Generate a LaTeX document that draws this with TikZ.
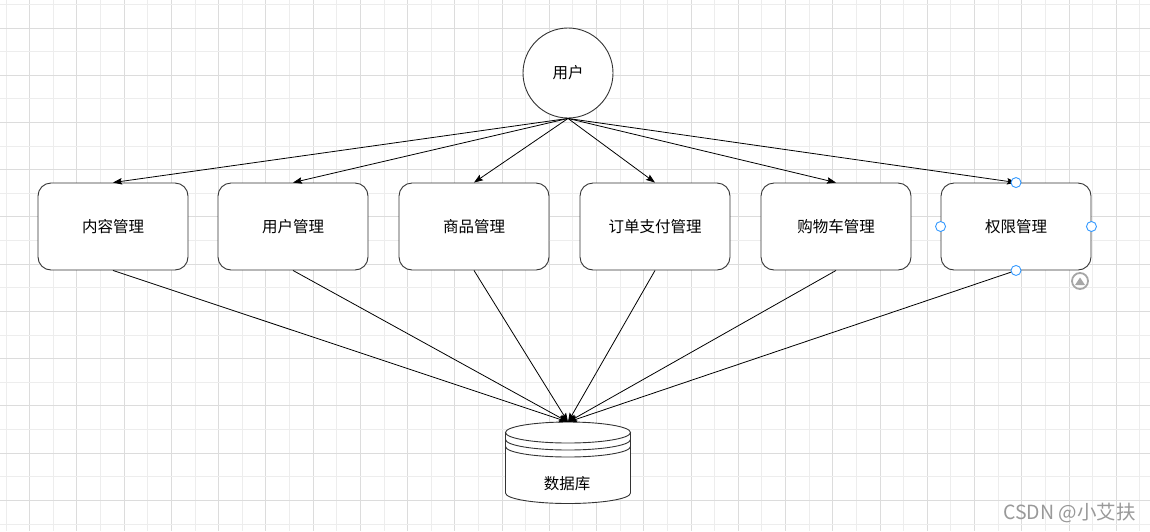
\documentclass[tikz,border=0pt]{standalone}
\usepackage{fontspec}
\setmainfont{Noto Sans CJK SC}
\usetikzlibrary{arrows.meta}
\definecolor{gridA}{HTML}{EDEDED}
\definecolor{gridB}{HTML}{DCDCDC}
\definecolor{edgec}{HTML}{333333}
\definecolor{handlec}{HTML}{3399FF}
\definecolor{hoverc}{HTML}{A6A6A6}
\definecolor{wmark}{HTML}{999999}
\begin{document}
\begin{tikzpicture}[x=1pt,y=-1pt,
  lbl/.style={font=\fontsize{15.5}{18}\selectfont, text=black},
  modbox/.style={lbl, draw=edgec, line width=0.9pt, rounded corners=13pt, fill=white,
    minimum width=150pt, minimum height=87pt, inner sep=0pt},
  usercirc/.style={lbl, draw=edgec, line width=0.9pt, circle, fill=white, minimum size=90pt, inner sep=0pt},
  conn/.style={draw=black, line width=0.8pt},
  arr/.style={conn, -{Stealth[length=9pt,width=6.5pt,inset=1.5pt]}},
  dbline/.style={draw=edgec, line width=0.9pt},
  handle/.style={circle, draw=handlec, fill=white, line width=0.9pt, minimum size=10pt, inner sep=0pt},
]
\useasboundingbox (0,0) rectangle (1150,531);
\fill[white] (0,0) rectangle (1150,531);
% grid
\foreach \k in {0,...,24} {
  \draw[gridA, line width=0.8pt] ({6+47.24*\k},0) -- ({6+47.24*\k},531);
  \draw[gridB, line width=0.8pt] ({29.62+47.24*\k},0) -- ({29.62+47.24*\k},531);
}
\foreach \k in {0,...,11} {
  \draw[gridA, line width=0.8pt] (0,{4.3+47.24*\k}) -- (1150,{4.3+47.24*\k});
  \draw[gridB, line width=0.8pt] (0,{27.9+47.24*\k}) -- (1150,{27.9+47.24*\k});
}

% user circle
\node[usercirc] (user) at (568,73) {用户};

% module boxes
\node[modbox] (b1) at (113,226.5) {内容管理};
\node[modbox] (b2) at (293,226.5) {用户管理};
\node[modbox] (b3) at (474,226.5) {商品管理};
\node[modbox] (b4) at (655,226.5) {订单支付管理};
\node[modbox] (b5) at (836,226.5) {购物车管理};
\node[modbox] (b6) at (1016,226.5) {权限管理};

% database cylinder (y axis points down: arcs from 180 to 0 pass below)
\coordinate (dbtop) at (568,422);
\fill[white] (505.5,432.5) -- (505.5,493) arc[start angle=180,end angle=0,x radius=62.5,y radius=10.5]
  -- (630.5,432.5) arc[start angle=0,end angle=-180,x radius=62.5,y radius=10.5] -- cycle;
\draw[dbline] (568,432.5) ellipse[x radius=62.5,y radius=10.5];
\draw[dbline] (505.5,439.5) arc[start angle=180,end angle=0,x radius=62.5,y radius=10.5];
\draw[dbline] (505.5,446.5) arc[start angle=180,end angle=0,x radius=62.5,y radius=10.5];
\draw[dbline] (505.5,432.5) -- (505.5,493) arc[start angle=180,end angle=0,x radius=62.5,y radius=10.5] -- (630.5,432.5);
\node[lbl] (db) at (567,484) {数据库};

% connectors user -> modules
\foreach \b in {b1,b2,b3,b4,b5,b6} {
  \draw[arr] (user.south) -- (\b.north);
}
% connectors modules -> database
\foreach \b in {b1,b2,b3,b4,b5,b6} {
  \draw[arr] (\b.south) -- (dbtop);
}

% selection handles on b6
\node[handle] (h1) at (b6.north) {};
\node[handle] (h2) at (b6.west) {};
\node[handle] (h3) at (b6.east) {};
\node[handle] (h4) at (b6.south) {};
% hover icon
\node[circle, draw=hoverc, line width=1.8pt, minimum size=16pt, inner sep=0pt] (hov) at (1080,281) {};
\fill[hoverc] (1075,285) -- (1085,285) -- (1080,277.5) -- cycle;

% watermark
\node[anchor=east, text=wmark, font=\fontsize{19.5}{22}\selectfont, inner sep=0pt] (wm) at (1136,513) {CSDN @小艾扶};
\end{tikzpicture}
\end{document}
